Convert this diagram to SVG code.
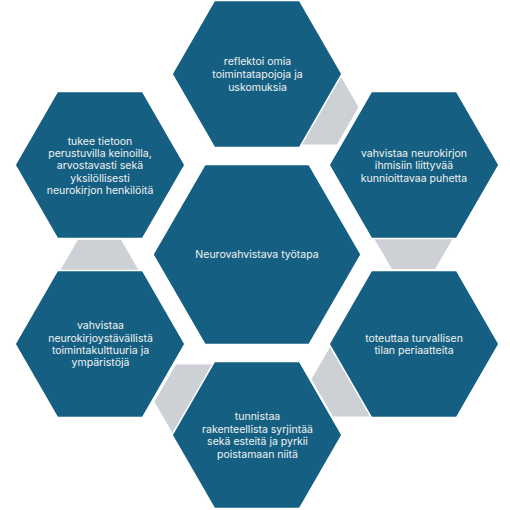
<svg xmlns="http://www.w3.org/2000/svg" width="510" height="510" viewBox="0 0 510 510">
  <style>
    .hex { fill: #156082; stroke: #FFFFFF; stroke-width: 1.5; }
    .gray { fill: #CDD1D6; stroke: #FFFFFF; stroke-width: 1.5; }
    .lbl { font-family: Inter, "Liberation Sans", sans-serif; font-size: 10.5px; fill: #F2F2F2; text-anchor: middle; }
  </style>
  <rect width="510" height="510" fill="#FFFFFF"/>
  <g id="connectors">
    <polygon class="gray" points="359.4,107.2 337.4,69.1 293.4,69.1 271.4,107.2 293.4,145.3 337.4,145.3"/>
    <polygon class="gray" points="457.5,231.9 435.5,193.8 391.5,193.8 369.5,231.9 391.5,270 435.5,270"/>
    <polygon class="gray" points="398.6,379.2 376.6,341.1 332.6,341.1 310.6,379.2 332.6,417.3 376.6,417.3"/>
    <polygon class="gray" points="241.6,401.8 219.6,363.7 175.6,363.7 153.6,401.8 175.6,439.9 219.6,439.9"/>
    <polygon class="gray" points="143.5,277.1 121.5,239 77.5,239 55.5,277.1 77.5,315.2 121.5,315.2"/>
  </g>
  <g id="node-center">
    <polygon class="hex" points="361,254.5 309,164.4 205,164.4 153,254.5 205,344.6 309,344.6"/>
    <text class="lbl" x="257" y="258">Neurovahvistava työtapa</text>
  </g>
  <g id="node-top">
    <polygon class="hex" points="342,74 299.5,0.4 214.5,0.4 172,74 214.5,147.6 299.5,147.6"/>
    <text class="lbl" x="257.5" y="65.4">reflektoi omia</text>
    <text class="lbl" x="257.5" y="78">toimintatapojoja ja</text>
    <text class="lbl" x="257.5" y="90.6">uskomuksia</text>
  </g>
  <g id="node-top-right">
    <polygon class="hex" points="499,165 456.5,91.4 371.5,91.4 329,165 371.5,238.6 456.5,238.6"/>
    <text class="lbl" x="414" y="156.5">vahvistaa neurokirjon</text>
    <text class="lbl" x="414" y="169.3">ihmisiin liittyvää</text>
    <text class="lbl" x="414" y="182">kunnioittavaa puhetta</text>
  </g>
  <g id="node-bottom-right">
    <polygon class="hex" points="499,344 456.5,270.4 371.5,270.4 329,344 371.5,417.6 456.5,417.6"/>
    <text class="lbl" x="414" y="342.1">toteuttaa turvallisen</text>
    <text class="lbl" x="414" y="354">tilan periaatteita</text>
  </g>
  <g id="node-bottom">
    <polygon class="hex" points="342,435 299.5,361.4 214.5,361.4 172,435 214.5,508.6 299.5,508.6"/>
    <text class="lbl" x="257.5" y="419.8">tunnistaa</text>
    <text class="lbl" x="257.5" y="432.6">rakenteellista syrjintää</text>
    <text class="lbl" x="257.5" y="445.4">sekä esteitä ja pyrkii</text>
    <text class="lbl" x="257.5" y="458">poistamaan niitä</text>
  </g>
  <g id="node-bottom-left">
    <polygon class="hex" points="185,344 142.5,270.4 57.5,270.4 15,344 57.5,417.6 142.5,417.6"/>
    <text class="lbl" x="100.5" y="328.8">vahvistaa</text>
    <text class="lbl" x="100.5" y="341.5">neurokirjoystävällistä</text>
    <text class="lbl" x="100.5" y="353.8">toimintakulttuuria ja</text>
    <text class="lbl" x="100.5" y="366.1">ympäristöjä</text>
  </g>
  <g id="node-top-left">
    <polygon class="hex" points="185,165 142.5,91.4 57.5,91.4 15,165 57.5,238.6 142.5,238.6"/>
    <text class="lbl" x="100" y="144.8">tukee tietoon</text>
    <text class="lbl" x="100" y="157.1">perustuvilla keinoilla,</text>
    <text class="lbl" x="100" y="169.4">arvostavasti sekä</text>
    <text class="lbl" x="100" y="181.7">yksilöllisesti</text>
    <text class="lbl" x="100" y="194">neurokirjon henkilöitä</text>
  </g>
</svg>
